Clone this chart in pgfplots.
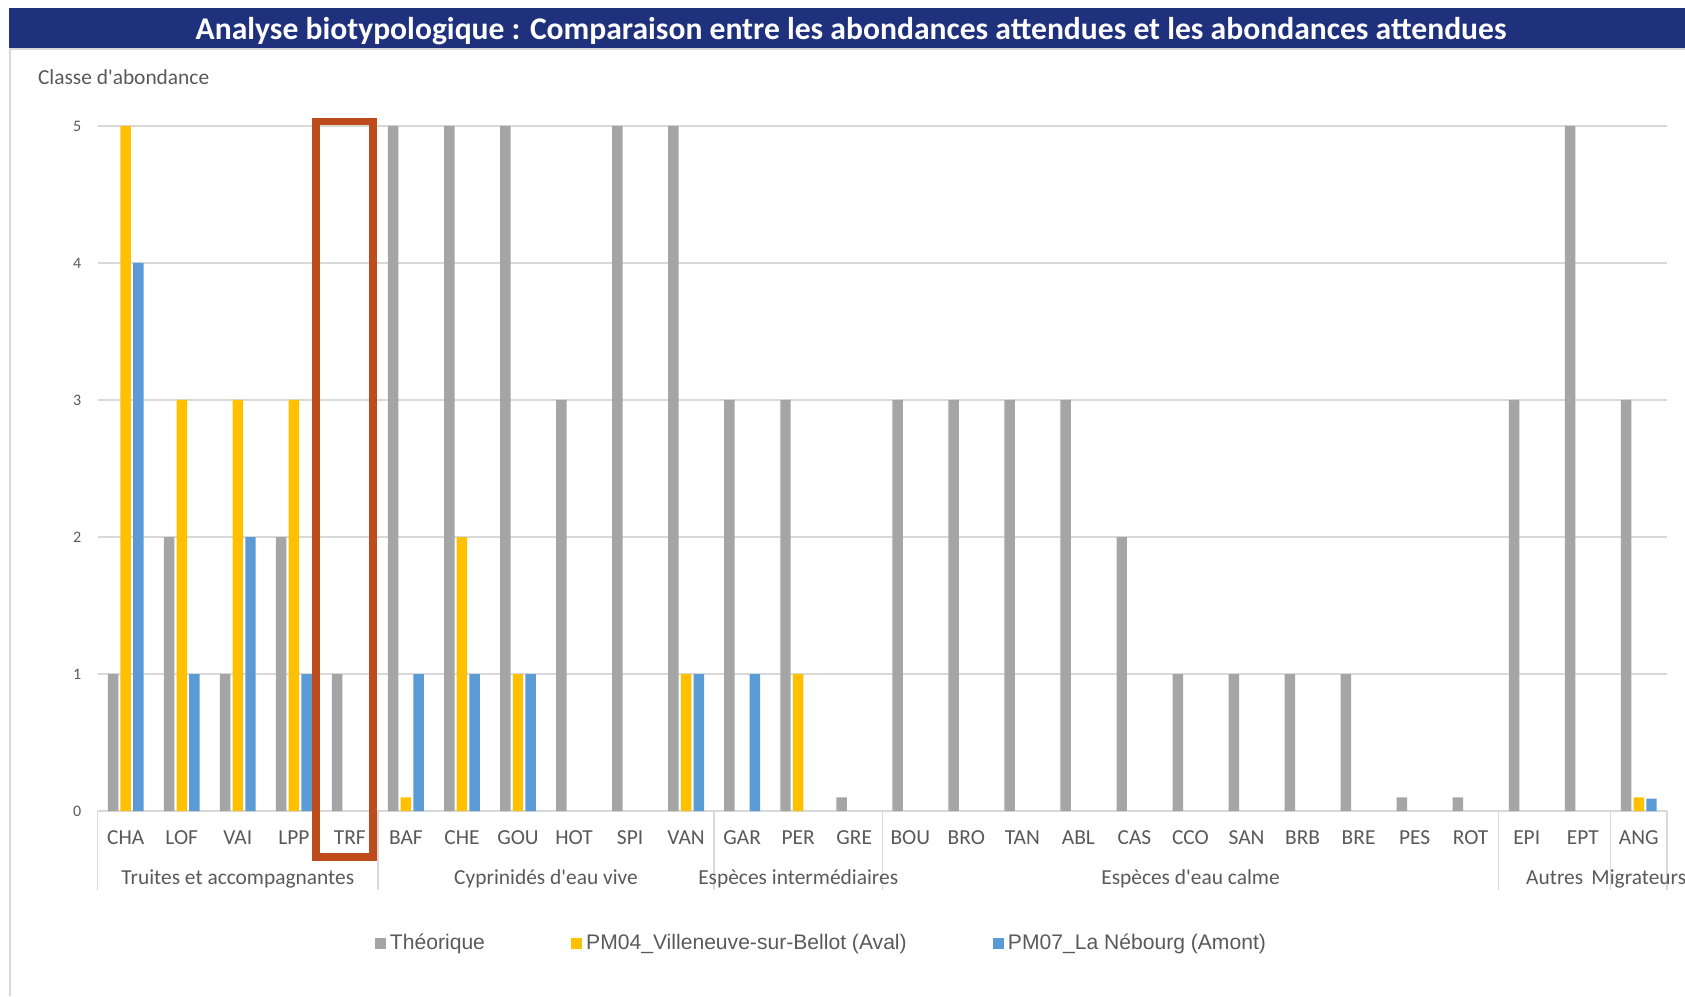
\documentclass[border=0pt]{standalone}
\usepackage{fontspec}
\setmainfont{Carlito}[Ligatures=TeXOff]
\newfontfamily\legfont{Liberation Sans}
\usepackage{pgfplots}
\pgfplotsset{compat=1.18}
\definecolor{navy}{RGB}{31,49,125}
\definecolor{tgray}{RGB}{89,89,89}
\definecolor{gridc}{RGB}{217,217,217}
\definecolor{cgray}{RGB}{165,165,165}
\definecolor{cyel}{RGB}{255,192,0}
\definecolor{cblue}{RGB}{91,155,213}
\definecolor{redc}{RGB}{190,75,28}
\pgfplotsset{sqlegend/.style={legend image code/.code={\fill[##1,draw=none] (0pt,-2.6pt) rectangle (5.2pt,2.6pt);}}}
\begin{document}
\begin{tikzpicture}[x=1pt,y=1pt]
\useasboundingbox (0,0) rectangle (842.5,498);
\fill[navy] (4.5,473.85) rectangle (842.5,493.85);
\draw[gridc, line width=1pt] (4.8,0) -- (4.8,473.85);
\draw[gridc, line width=0.8pt] (4.8,473.6) -- (842.5,473.6);
\node[anchor=base, text=white, font=\bfseries\fontsize{15.8}{18}\selectfont, inner sep=0pt] at (425.5,478.0) {Analyse biotypologique : Comparaison entre les abondances attendues et les abondances attendues};
\node[anchor=base west, font=\fontsize{10.7}{12}\selectfont, text=tgray, inner sep=0pt] at (18.8,455.75) {Classe d'abondance};
\begin{axis}[
  at={(48.85pt,92.5pt)}, anchor=south west, scale only axis,
  width=784.55pt, height=342.5pt,
  xmin=-0.5, xmax=27.5, ymin=0, ymax=5,
  clip=false,
  axis line style={draw=none},
  major tick length=0pt,
  ytick={0,1,2,3,4,5},
  ymajorgrids, grid style={gridc, line width=0.7pt},
  xtick={0,...,27},
  xticklabels={CHA,LOF,VAI,LPP,TRF,BAF,CHE,GOU,HOT,SPI,VAN,GAR,PER,GRE,BOU,BRO,TAN,ABL,CAS,CCO,SAN,BRB,BRE,PES,ROT,EPI,EPT,ANG},
  /pgf/number format/assume math mode=true,
  yticklabel style={font=\fontsize{8}{9}\selectfont, text=tgray, inner sep=0pt, anchor=east, xshift=-8pt},
  xticklabel style={font=\fontsize{10.7}{12}\selectfont, text=tgray, anchor=base, yshift=-16.9pt},
  legend columns=3,
  legend cell align=left,
  legend style={at={(0.4621,-0.1934)}, anchor=center, draw=none, fill=none,
    font=\legfont\fontsize{10.55}{12}\selectfont, text=tgray, inner sep=0pt,
    nodes={inner xsep=2.2pt},
    /tikz/every even column/.append style={column sep=41pt}},
]
\addplot[ybar, bar width=0.187, bar shift=-0.2266, fill=cgray, draw=none, sqlegend] coordinates {
(0,1) (1,2) (2,1) (3,2) (4,1) (5,5) (6,5) (7,5) (8,3) (9,5) (10,5) (11,3) (12,3) (13,0.1)
(14,3) (15,3) (16,3) (17,3) (18,2) (19,1) (20,1) (21,1) (22,1) (23,0.1) (24,0.1) (25,3) (26,5) (27,3)};
\addlegendentry{Théorique}
\addplot[ybar, bar width=0.187, bar shift=0, fill=cyel, draw=none, sqlegend] coordinates {
(0,5) (1,3) (2,3) (3,3) (5,0.1) (6,2) (7,1) (10,1) (12,1) (27,0.1)};
\addlegendentry{PM04\_Villeneuve-sur-Bellot (Aval)}
\addplot[ybar, bar width=0.187, bar shift=0.2266, fill=cblue, draw=none, sqlegend] coordinates {
(0,4) (1,1) (2,2) (3,1) (5,1) (6,1) (7,1) (10,1) (11,1) (27,0.09)};
\addlegendentry{PM07\_La Nébourg (Amont)}
\foreach \sx in {-0.5,4.5,10.5,13.5,24.5,26.5,27.5} {
  \edef\tmp{\noexpand\draw[gridc, line width=0.7pt] (axis cs:\sx,0) -- ([yshift=-39.5pt]axis cs:\sx,0);}\tmp
}
\tikzset{grp/.style={anchor=base, yshift=-36.9pt, font=\fontsize{10.7}{12}\selectfont, text=tgray, inner sep=0pt}}
\node[grp] at (axis cs:2,0) {Truites et accompagnantes};
\node[grp] at (axis cs:7.5,0) {Cyprinidés d'eau vive};
\node[grp] at (axis cs:12,0) {Espèces intermédiaires};
\node[grp] at (axis cs:19,0) {Espèces d'eau calme};
\node[grp] at (axis cs:25.5,0) {Autres};
\node[grp] at (axis cs:27,0) {Migrateurs};
\end{axis}
\draw[redc, line width=3.85pt] (158.1,69.5) rectangle (186.4,437.25);
\end{tikzpicture}
\end{document}
